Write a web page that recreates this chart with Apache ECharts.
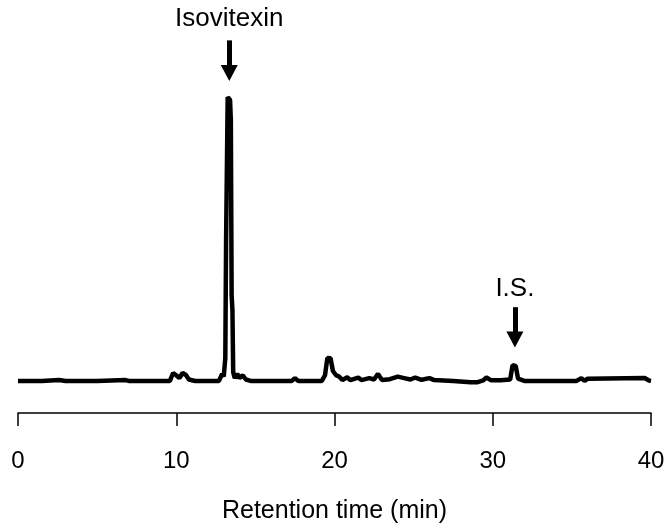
<!DOCTYPE html>
<html>
<head>
<meta charset="utf-8">
<script src="https://cdn.jsdelivr.net/npm/echarts@6/dist/echarts.min.js"></script>
<style>
  html, body { margin: 0; padding: 0; background: #fff; }
  #chart { width: 668px; height: 529px; }
</style>
</head>
<body>
<div id="chart"></div>
<script>
// retention time (min) and detector signal (arbitrary units, baseline 0, main peak 100)
var times = [
  0, 1.5, 2.6, 3.0, 5.0, 6.8, 7.0, 9.6, 9.8, 10.0, 10.2, 10.4, 10.6, 10.8, 11.2,
  12.7, 12.9, 13.0, 13.1, 13.15, 13.25, 13.4, 13.45, 13.5, 13.55, 13.6, 13.7, 13.85, 14.0, 14.2, 14.4, 14.7,
  17.3, 17.5, 17.7, 19.2, 19.4, 19.55, 19.75, 19.9, 20.1, 20.3, 20.5, 20.8, 21.0, 21.5, 21.7,
  22.2, 22.5, 22.75, 23.0, 23.5, 24.0, 24.4, 24.8, 25.1, 25.5, 26.0, 26.3, 27.5, 28.6, 29.0,
  29.4, 29.6, 29.9, 30.5, 31.1, 31.25, 31.45, 31.6, 32.0, 35.3, 35.6, 35.8, 36.0, 39.6, 39.9, 40
];
var signal = [
  0, 0, 0.3, 0, 0, 0.3, 0, 0, 2.8, 2.0, 1.0, 2.8, 2.2, 0.5, 0,
  0, 2.5, 1.5, 8, 50, 100, 99, 92, 30, 25, 3, 1, 2.5, 1.0, 2.0, 0.5, 0,
  0, 1.0, 0, 0, 2, 8.1, 8.0, 3.5, 2, 1.5, 0.3, 1.3, 0.3, 1.2, 0.3,
  1.0, 0.5, 2.5, 0.3, 0.6, 1.5, 1.0, 0.5, 1.2, 0.4, 1.0, 0.3, 0, -0.5, -0.5,
  0.2, 1.2, 0.2, 0.2, 0.5, 5.5, 5.3, 0.8, 0, 0, 1.0, 0, 0.8, 1.0, 0.1, 0
];
var xTicks = [0, 10, 20, 30, 40];

// peak annotations: name, retention time, arrow top, arrow head centre, label height
var peakNames = ['Isovitexin', 'I.S.'];
var peakTimes = [13.35, 31.4];
var arrowTop = [120, 26];
var arrowEnd = [108.5, 14.6];
var labelY = [127.5, 32.6];

var chart = echarts.init(document.getElementById('chart'));

var trace = times.map(function (t, i) { return [t, signal[i]]; });

var arrows = peakTimes.map(function (t, i) {
  return [{ coord: [t, arrowTop[i]] }, { coord: [t, arrowEnd[i]] }];
});
var labels = peakNames.map(function (n, i) {
  return { coord: [peakTimes[i], labelY[i]], value: n };
});

chart.setOption({
  animation: false,
  textStyle: { fontFamily: 'Liberation Sans, Arial, sans-serif' },
  grid: { left: 18, right: 17, top: 12, bottom: 116 },
  xAxis: {
    type: 'value',
    min: 0,
    max: 40,
    interval: 10,
    name: 'Retention time (min)',
    nameLocation: 'middle',
    nameGap: 86,
    nameTextStyle: { fontSize: 25, color: '#000' },
    splitLine: { show: false },
    axisLine: { onZero: false, lineStyle: { color: '#000', width: 1.5 } },
    axisTick: { length: 13, lineStyle: { color: '#000', width: 1.5 } },
    axisLabel: {
      margin: 36, fontSize: 24, color: '#000',
      formatter: function (v) { return xTicks.indexOf(v) >= 0 ? String(v) : ''; }
    }
  },
  yAxis: { type: 'value', min: -11.3, max: 130, show: false },
  series: [{
    type: 'line',
    data: trace,
    symbol: 'none',
    lineStyle: { color: '#000', width: 4.5 },
    markLine: {
      silent: true,
      symbol: ['none', 'triangle'],
      symbolSize: [17, 16],
      lineStyle: { color: '#000', width: 5, type: 'solid' },
      itemStyle: { color: '#000' },
      label: { show: false },
      data: arrows
    },
    markPoint: {
      silent: true,
      symbol: 'circle',
      symbolSize: 0,
      label: {
        show: true, fontSize: 26, color: '#000',
        formatter: function (p) { return p.value; }
      },
      data: labels
    }
  }]
});
</script>
</body>
</html>
